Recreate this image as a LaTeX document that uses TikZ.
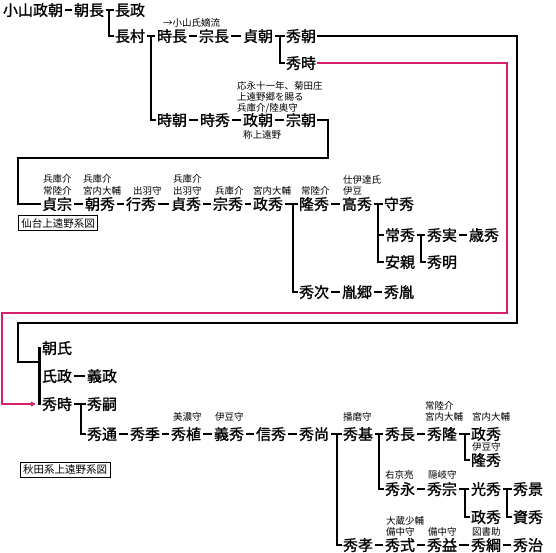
\documentclass[tikz,border=0pt]{standalone}
\usepackage{fontspec}
\setmainfont{Noto Sans CJK JP}
\newfontfamily\jpbold[FakeBold=1.3]{Noto Sans CJK JP}
\usetikzlibrary{calc,arrows.meta}
\definecolor{linkpink}{RGB}{214,32,110}
\tikzset{
  nm/.style={inner xsep=1pt, inner ysep=0pt, text height=12.5pt, text depth=1pt, font=\jpbold\fontsize{15}{15}\selectfont},
  nt/.style={anchor=west, inner sep=0pt, text height=8pt, text depth=1pt, font=\fontsize{9.5}{11}\selectfont},
  ln/.style={line width=2.6pt},
  dashln/.style={ln, shorten <=1.2pt, shorten >=1.2pt},
  pk/.style={draw=linkpink, line width=1.3pt},
  tag/.style={draw, line width=0.8pt, inner xsep=3pt, inner ysep=2.5pt, font=\fontsize{10.5}{10.5}\selectfont}
}
\begin{document}
\begin{tikzpicture}[x=1pt, y=-1pt]
\useasboundingbox (0,0) rectangle (556,553);
% koyama line
\node[nm] (k1) at (33,10) {小山政朝};
\foreach \n/\x/\y/\t in {k2/89/10/朝長, k3/130/10/長政, k4/130/36/長村, k5/172/36/時長, k6/214/36/宗長, k7/258/36/貞朝, k8/301/36/秀朝, k9/301/63/秀時, k10/172/120/時朝, k11/215/120/時秀, k12/258/120/政朝, k13/301/120/宗朝}
  \node[nm] (\n) at (\x,\y) {\t};
% sendai line
\foreach \n/\x/\y/\t in {s1/57/204/貞宗, s2/100/204/朝秀, s3/141/204/行秀, s4/186/204/貞秀, s5/228/204/宗秀, s6/268/204/政秀, s7/314/204/隆秀, s8/357/204/高秀, s9/399/204/守秀, s10/400/235/常秀, s11/442/235/秀実, s12/484/235/歳秀, s13/400/262/安親, s14/442/262/秀明, s15/314/292/秀次, s16/357/292/胤郷, s17/399/292/秀胤}
  \node[nm] (\n) at (\x,\y) {\t};
% akita line
\foreach \n/\x/\y/\t in {a1/57/348/朝氏, a2/57/376/氏政, a3/102/376/義政, a4/57/404/秀時, a5/102/404/秀嗣, a6/102/434/秀通, a7/145/434/秀季, a8/186/434/秀植, a9/229/434/義秀, a10/271/434/信秀, a11/314/434/秀尚, a12/358/434/秀基, a13/400/434/秀長, a14/442/434/秀隆, a15/486/434/政秀, a16/486/460/隆秀, a17/400/489/秀永, a18/442/489/秀宗, a19/486/489/光秀, a20/528/489/秀景, a21/486/517/政秀, a22/528/517/資秀, a23/358/545/秀孝, a24/400/545/秀式, a25/442/545/秀益, a26/486/545/秀綱, a27/528/545/秀治}
  \node[nm] (\n) at (\x,\y) {\t};
% titles and offices
\foreach \x/\y/\t [count=\i] in {163/23/→小山氏嫡流, 237/86/応永十一年、菊田庄, 237/97/上遠野郷を賜る, 243/135/称上遠野,
  43/179/兵庫介, 43/191/常陸介, 83/179/兵庫介, 83/191/宮内大輔, 133/191/出羽守, 173/179/兵庫介, 173/191/出羽守, 215/191/兵庫介, 253/191/宮内大輔, 301/191/常陸介, 343/180/仕伊達氏, 343/191/伊豆,
  173/417/美濃守, 215/417/伊豆守, 343/417/播磨守, 425/406/常陸介, 425/417/宮内大輔, 472/417/宮内大輔, 472/447/伊豆守, 385/475/右京亮, 428/475/隠岐守, 386/521/大蔵少輔, 386/532/備中守, 428/532/備中守, 472/532/図書助}
  \node[nt] (t\i) at (\x,\y) {\t};
\node[nt] (t0) at (237,108) {兵庫介/陸奥守};
\node[tag] (sendai) at (58,223) {仙台上遠野系図};
\node[tag] (akita) at (65,470) {秋田系上遠野系図};
% dashes
\foreach \a/\b in {k1/k2, k4/k5, k5/k6, k6/k7, k10/k11, k11/k12, k12/k13,
  s1/s2, s2/s3, s3/s4, s4/s5, s5/s6, s7/s8, s10/s11, s11/s12, s15/s16, s16/s17,
  a2/a3, a6/a7, a7/a8, a8/a9, a9/a10, a10/a11, a12/a13, a13/a14, a17/a18, a18/a19, a23/a24, a24/a25, a25/a26, a26/a27}
  \draw[dashln] (\a) -- (\b);
% dashes that carry a branch
\foreach \a/\b in {k2/k3, k7/k8, s6/s7, s8/s9, a4/a5, a11/a12, a14/a15, a19/a20}
  \draw[ln, shorten <=1.2pt] (\a) -- (\b);
% branches
\foreach \c/\d in {k3/k4, k5/k10, k8/k9, s7/s15, s9/s10, s9/s13, s11/s14, a5/a6, a12/a23, a13/a17, a15/a16, a19/a21, a20/a22}
  \draw[ln] ($(\c.west)+(-5,0)$) |- (\d.west);
\coordinate (aj) at ($(a1.west)+(-1.5,0)$);
\draw[ln] (a1.west) -- (aj) |- (a4.west);
\draw[ln] (aj |- a2) -- (a2.west);
% links between the houses
\coordinate (bl) at (18,362);
\draw[ln] (k13.east) -| (328,158) -- (18,158) |- (s1.west);
\draw[ln] (k8.east) -| (517,323) -- (18,323) |- (bl -| aj);
\coordinate (pa) at ($(a4.west)+(-5,0)$);
\draw[pk, -{Triangle[length=5pt, width=5pt]}] (k9.east) -| (507,313) -- (2,313) |- (pa);
\end{tikzpicture}
\end{document}
